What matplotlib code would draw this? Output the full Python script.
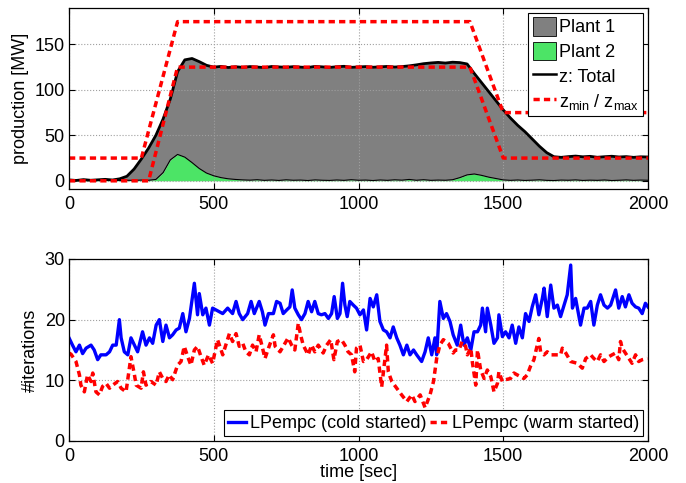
import numpy as np
import matplotlib
matplotlib.use("Agg")
from matplotlib import pyplot as plt
from matplotlib.patches import Patch
from matplotlib.lines import Line2D

plt.rcParams['font.family'] = ['Liberation Sans', 'DejaVu Sans']
plt.rcParams['font.size'] = 13
plt.rcParams['mathtext.fontset'] = 'custom'
plt.rcParams['mathtext.rm'] = 'Liberation Sans'

# ---- top panel: production (sampled every 25 s) ----
t_prod = np.arange(0, 2001, 25)
total = [1.0, 0.4, 1.3, 0.6, 1.1, 1.6, 0.9, 2.2,
         5, 13, 24, 36, 50, 68, 90, 120,
         133, 134.5, 131, 127, 125, 125.8, 124.6, 125.4,
         124.8, 125.6, 125.1, 124.5, 125.7, 125.2, 124.9, 125.5,
         125.0, 124.6, 125.8, 125.3, 124.7, 125.4, 125.9, 124.8,
         125.2, 125.6, 124.9, 125.3, 125.8, 125.1, 125.6, 126.4,
         127.5, 128.8, 129.6, 130.2, 129.5, 130.4, 130.0, 128.5,
         118, 108, 98, 88, 78, 69, 61, 54,
         46, 38, 31, 26.5, 25.8, 26.6, 27.2, 26.4,
         26.9, 25.9, 26.5, 27.0, 26.2, 26.6, 25.8, 26.4,
         26.2]
plant2 = [0.3, 0.8, 0.2, 0.6, 1.0, 0.4, 0.7, 0.3,
          0.6, 0.5, 0.8, 0.6, 1.5, 9, 23, 29,
          26, 20, 13.5, 8.5, 5.5, 3.5, 2.2, 1.5,
          1.0, 0.7, 1.2, 0.5, 0.9, 0.4, 1.1, 0.6,
          0.8, 0.3, 1.0, 0.6, 0.4, 0.9, 0.5, 1.2,
          0.6, 0.8, 0.3, 0.9, 0.5, 1.1, 0.7, 1.5,
          0.6, 1.2, 0.5, 0.8, 0.6, 1.2, 3.5, 6.5,
          7.5, 6, 4, 2.5, 1.0, 0.5, 0.9, 0.4,
          0.7, 1.1, 0.5, 0.3, 0.8, 0.6, 1.0, 0.4,
          0.7, 0.5, 0.9, 0.3, 0.6, 1.0, 0.5, 0.8,
          0.6]
zmax_t = [0, 250, 375, 1385, 1500, 2000]
zmax = [25, 25, 175, 175, 75, 75]
zmin_t = [0, 275, 375, 1385, 1500, 2000]
zmin = [0, 0, 125, 125, 25, 25]

# ---- bottom panel: iterations ----
cold_t = [0, 12, 24, 36, 47, 59, 76, 87, 99, 110, 128, 140, 151, 163, 174, 180,
          191, 203, 214, 226, 237, 254, 266, 278, 289, 301, 312, 324, 335, 347,
          358, 370, 381, 393, 404, 416, 433, 444, 450, 462, 473, 485, 496, 531,
          548, 565, 577, 588, 600, 617, 629, 640, 657,
          668, 677, 689, 706, 717, 729, 740, 752, 763, 771, 780, 792, 803, 815,
          826, 838, 849, 861, 872, 884, 896, 907, 916, 927, 936, 945, 953, 961,
          970, 982, 993, 1005, 1017, 1028, 1040, 1051, 1063, 1074, 1086, 1097,
          1109, 1120, 1132, 1143, 1155, 1167, 1178, 1190, 1201, 1218, 1230, 1241,
          1253, 1264, 1270, 1281, 1293, 1304, 1316, 1327,
          1341, 1353, 1364, 1376, 1388, 1399, 1411, 1422, 1428, 1439, 1445, 1457,
          1468, 1480, 1485, 1497, 1508, 1520, 1531, 1543, 1554, 1566, 1577, 1589,
          1600, 1612, 1623, 1635, 1641, 1652, 1664, 1675, 1687, 1698, 1710, 1721,
          1733, 1739, 1750, 1767, 1779, 1790, 1802, 1813, 1825, 1836, 1848, 1860,
          1871, 1888, 1899, 1911, 1922, 1934, 1945, 1957, 1968, 1980, 1991, 2000]
cold = [17, 15.8, 14.7, 15.8, 14.4, 15.3, 15.8, 15, 13.4, 14.2, 14.2, 14.7, 15.8, 15.8, 20, 17,
        14.7, 14.2, 17, 15.8, 14.7, 18, 15.8, 17, 16.1, 19.1, 20, 16.4, 19.1, 17,
        17.5, 18.3, 18.6, 21, 18, 20.2, 26, 20.8, 24.3, 20.8, 21.9, 19.1, 21.9, 21,
        21.9, 21, 23, 21, 20, 21, 23, 21, 23,
        21.3, 19.1, 21, 21, 23, 22.7, 21, 21.6, 22.1, 24.9, 21.9, 20.8, 20, 21,
        23, 21.3, 23, 21, 20.8, 21, 20.2, 21, 23.8, 20.2, 21, 26, 22.4, 20.5,
        23, 22.4, 21.9, 20.8, 21.6, 18.3, 23.5, 22.1, 24.1, 19.7, 18.3, 18,
        17, 18.8, 17, 15.8, 14.2, 15.8, 14.2, 15, 14.2, 13.1, 14.7, 17,
        14.2, 17, 14.2, 23, 20.2, 21, 19.7, 17.5,
        15.8, 19.1, 15.8, 17, 15, 18, 18, 19.1, 21.9, 18, 21.9, 19.1,
        16.1, 17, 20.8, 17.2, 18, 17, 19.1, 16.1, 18.8, 17, 21, 19.7,
        22.1, 24.1, 20.8, 23.5, 25.2, 20.5, 25.7, 21.9, 22.4, 20.5, 22.4, 24.1,
        29, 21.9, 23.5, 19.1, 21.9, 21.9, 23, 19.1, 22.4, 24.1, 22.4, 21.9,
        22.4, 24.9, 21.9, 23.8, 22.1, 24.1, 22.7, 22.1, 21.9, 21, 22.7, 22.1]
warm_t = [0, 7, 24, 36, 41, 53, 64, 76, 82, 93, 105, 116, 128, 140, 151, 168,
          180, 197, 214, 226, 232, 249, 257, 266, 283, 301, 312, 324, 335, 346,
          358, 375, 387, 398, 410, 421, 433, 444, 456, 467, 482, 496, 513, 531,
          554, 565, 577, 588, 600, 611, 623, 634, 646, 657,
          666, 677, 689, 706, 712, 729, 746, 757, 769, 780, 792, 800, 809, 826,
          838, 849, 861, 878, 890, 904, 915, 927, 941, 953, 964, 976, 987, 993,
          1005, 1017, 1028, 1045, 1057, 1068, 1080, 1097, 1103, 1115, 1132, 1149,
          1167, 1184, 1195, 1213, 1230, 1247, 1259, 1270, 1281, 1293, 1310, 1327,
          1335, 1347, 1358, 1370, 1376, 1388, 1393, 1405, 1411, 1422, 1434, 1445,
          1457, 1468, 1480, 1485, 1497, 1508, 1525, 1537, 1548, 1560, 1571, 1583,
          1594, 1606, 1612, 1623, 1629, 1641, 1652, 1664, 1681, 1698, 1704, 1716,
          1733, 1756, 1773, 1785, 1802, 1813, 1825, 1836, 1848, 1865, 1876, 1888,
          1899, 1905, 1911, 1922, 1934, 1945, 1957, 1968, 1980, 1998]
warm = [14.5, 14.3, 13.1, 10.9, 9.2, 8.1, 10.9, 9.8, 11.2, 8.1, 7.6, 9, 9.5, 8.7, 9.2, 9.8,
        8.7, 8.1, 13.9, 10.9, 9.2, 8.7, 11.4, 9.2, 9.8, 9.2, 11.4, 10.3, 9.8, 10.9,
        10.1, 12.5, 13.1, 15.6, 13.9, 12.5, 15, 15.6, 13.9, 12.5, 14.2, 12.8, 16.7, 14.2,
        17.7, 16.4, 17.7, 15.6, 16.1, 14.7, 14.2, 15.8, 14.7, 17.5,
        15.8, 13.6, 15.3, 17.5, 15.6, 14.7, 16.1, 17, 15.8, 15, 19.4, 17.5, 15.8, 14.2,
        15.8, 14.7, 15.8, 14.5, 15.8, 16.7, 13.4, 16.4, 16.7, 15.8, 14.7, 14.2, 11.4, 15.3,
        15.8, 13.1, 13.4, 14.7, 13.1, 13.6, 8.9, 15.8, 11.4, 9.8, 8.7, 7.6,
        6.5, 7.6, 6.5, 7.6, 5.5, 7.6, 9.8, 13.6, 15.8, 16.7, 16.1, 14.5,
        15, 15, 16.4, 15.6, 14.2, 15.3, 13.1, 9.2, 15, 11.7, 10.3, 11.7,
        10.6, 8.1, 9.5, 11.4, 9.8, 10.1, 10.3, 11.2, 10.9, 10.6, 10.3, 10.9,
        12.3, 13.4, 14.7, 16.9, 14.7, 14.2, 14.7, 14.2, 14.2, 14.2, 15.3, 14.5,
        13.1, 12.8, 12, 13.6, 14.2, 13.6, 13.1, 14.2, 13.1, 13.9, 14.2, 14.5,
        13.4, 16.4, 15.3, 14.5, 13.6, 12.8, 14.2, 13.1, 13.4, 13.6]

gray = '#808080'
green = '#4ce466'
dash = (0, (1.8, 1.2))


def style(ax):
    ax.tick_params(direction='in', top=True, right=True, length=4, width=0.8)
    ax.tick_params(axis='y', pad=3)
    ax.tick_params(axis='x', pad=5)
    ax.grid(True, linestyle=':', color='#a0a0a0', linewidth=0.8)
    for s in ax.spines.values():
        s.set_linewidth(0.9)
    ax.set_xlim(0, 2000)
    ax.set_xticks([0, 500, 1000, 1500, 2000])


fig = plt.figure(figsize=(6.86, 4.83), dpi=100)
ax1 = fig.add_axes([0.1006, 0.6087, 0.844, 0.3747])
ax2 = fig.add_axes([0.1006, 0.0870, 0.844, 0.3768])

p2 = np.array(plant2)
tot = np.array(total)
ax1.fill_between(t_prod, 0, p2, color=green, lw=0)
ax1.fill_between(t_prod, p2, tot, color=gray, lw=0)
ax1.plot(t_prod, p2, color='black', lw=0.8)
ax1.plot(t_prod, tot, color='black', lw=2.0)
ax1.plot(zmax_t, zmax, color='red', lw=2.5, linestyle=dash)
ax1.plot(zmin_t, zmin, color='red', lw=2.5, linestyle=dash)
ax1.set_ylim(-9, 190)
ax1.set_yticks([0, 50, 100, 150])
ax1.set_ylabel('production [MW]', labelpad=4)
style(ax1)
handles = [Patch(facecolor=gray, edgecolor='black', lw=0.6),
           Patch(facecolor=green, edgecolor='black', lw=0.6),
           Line2D([], [], color='black', lw=1.8),
           Line2D([], [], color='red', lw=2.5, linestyle=dash)]
labels = ['Plant 1', 'Plant 2', 'z: Total', r'z$_\mathrm{min}$ / z$_\mathrm{max}$']
leg = ax1.legend(handles, labels, loc='upper right', fancybox=False, framealpha=1,
                 edgecolor='black', handlelength=1.3, handleheight=1.2, handletextpad=0.15,
                 labelspacing=0.3, borderpad=0.25, borderaxespad=0.25)
leg.get_frame().set_linewidth(0.8)

ax2.plot(cold_t, cold, color='blue', lw=2.4, label='LPempc (cold started)')
ax2.plot(warm_t, warm, color='red', lw=2.5, linestyle=dash, label='LPempc (warm started)')
ax2.set_ylim(0, 30)
ax2.set_yticks([0, 10, 20, 30])
ax2.set_ylabel('#iterations', labelpad=4)
ax2.set_xlabel('time [sec]', labelpad=-1)
style(ax2)
leg2 = ax2.legend(loc='lower right', ncol=2, fancybox=False, framealpha=1, edgecolor='black',
                  handlelength=1.0, handletextpad=0.2, columnspacing=0.2,
                  borderpad=0.25, borderaxespad=0.25)
leg2.get_frame().set_linewidth(0.8)

fig.savefig('out.png', dpi=100)
